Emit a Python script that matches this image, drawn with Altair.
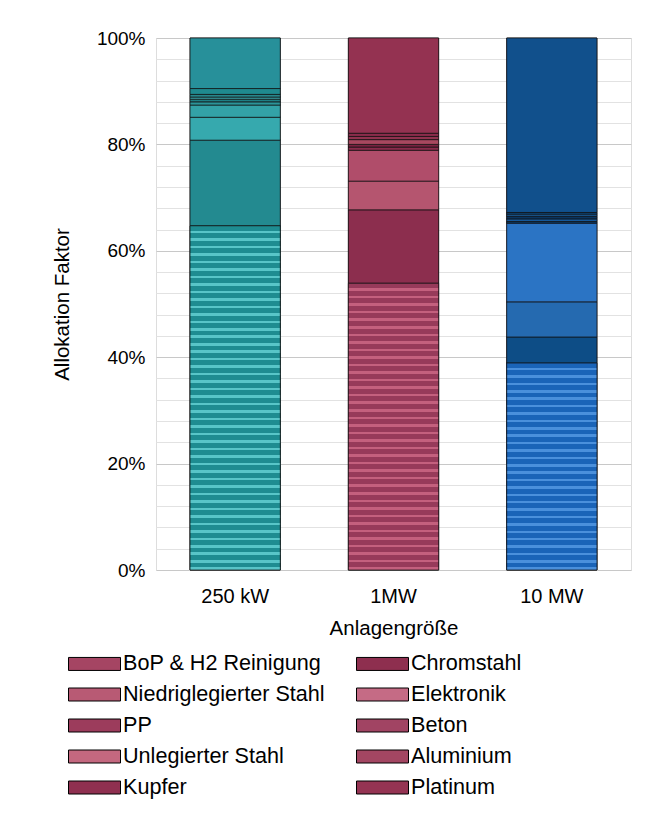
import altair as alt
import pandas as pd

# ---------------- data ----------------
bars = ["250 kW", "1MW", "10 MW"]
materials = [
    "BoP & H2 Reinigung", "Chromstahl", "Niedriglegierter Stahl", "Elektronik",
    "PP", "Beton", "Unlegierter Stahl", "Aluminium", "Kupfer", "Platinum",
]
v_250kw = [64.7, 16.1, 4.3, 2.3, 0.6, 0.5, 0.4, 0.5, 1.1, 9.5]
v_1mw = [53.9, 13.8, 5.4, 5.8, 0.6, 0.5, 0.9, 0.6, 0.6, 17.9]
v_10mw = [38.9, 4.9, 6.6, 14.8, 0.3, 0.5, 0.5, 0.4, 0.3, 32.8]
y_ticks = [0, 0.04, 0.08, 0.12, 0.16, 0.2, 0.24, 0.28, 0.32, 0.36, 0.4, 0.44,
           0.48, 0.52, 0.56, 0.6, 0.64, 0.68, 0.72, 0.76, 0.8, 0.84, 0.88, 0.92,
           0.96, 1.0]

# ---------------- styles ----------------
fills = {
    "250 kW": ["#1e8c91", "#238a90", "#36a9ae", "#33a2a7", "#2b9499",
               "#1e7f84", "#3aa8ad", "#26878c", "#1f8a8f", "#27909a"],
    "1MW": ["#973a5a", "#8c2e4e", "#b5556f", "#b04d6a", "#8a2c4b",
            "#7a2240", "#a8485f", "#90324f", "#8c2c4c", "#943251"],
    "10 MW": ["#1a64b8", "#0d4d86", "#256ab0", "#2b74c4", "#0b3f70",
              "#15589a", "#0a3560", "#1a5f9f", "#0c4a80", "#11508c"],
}
stripe_light = {"250 kW": "#58c5c8", "1MW": "#c4607e", "10 MW": "#4a90dc"}
legend_colors = ["#a54563", "#8e2f4f", "#b85a74", "#c56b85", "#9c3c5c",
                 "#a14463", "#c4687f", "#a34662", "#8f3050", "#953453"]

FONT = "Liberation Sans"
PLOT_W, PLOT_H = 475, 532

values_by_bar = {"250 kW": v_250kw, "1MW": v_1mw, "10 MW": v_10mw}
rows = []
for b in bars:
    for i, (m, v) in enumerate(zip(materials, values_by_bar[b])):
        rows.append({"bar": b, "material": m, "ord": i, "value": v / 100.0,
                     "fill": fills[b][i]})
df = pd.DataFrame(rows)

major = "round(datum.value*100) % 20 == 0"

x_enc = alt.X(
    "bar:N", sort=bars,
    scale=alt.Scale(paddingInner=0.43, paddingOuter=0.215),
    axis=alt.Axis(title="Anlagengröße", labelAngle=0, labelFontSize=20,
                  labelFont=FONT, labelColor="black", labelPadding=16,
                  ticks=False, domain=False, titleFont=FONT, titleFontSize=20.5,
                  titleFontWeight="normal", titleColor="black",
                  titleX=PLOT_W / 2, titleY=58, titleBaseline="middle"),
)
y_enc = alt.Y(
    "value:Q", stack="zero",
    scale=alt.Scale(domain=[0, 1], nice=False),
    axis=alt.Axis(values=y_ticks,
                  labelExpr=f"{major} ? format(datum.value, '.0%') : ''",
                  grid=True,
                  gridColor={"condition": {"test": major, "value": "#c8c8c8"},
                             "value": "#e2e2e2"},
                  gridWidth=1, ticks=False, domain=False,
                  labelFontSize=19, labelFont=FONT, labelColor="black",
                  labelPadding=11, title="Allokation Faktor", titleFont=FONT,
                  titleFontSize=20.5, titleFontWeight="normal",
                  titleColor="black", titleX=-94, titleY=PLOT_H / 2,
                  titleBaseline="middle"),
)

base = alt.Chart(df).encode(x=x_enc, y=y_enc, order=alt.Order("ord:Q"))

legend_layer = base.mark_bar(stroke="black", strokeWidth=0.7).encode(
    color=alt.Color(
        "material:N", sort=materials,
        scale=alt.Scale(domain=materials, range=legend_colors),
        legend=alt.Legend(
            title=None, orient="none", legendX=-88, legendY=612, columns=2,
            direction="horizontal",
            symbolType="M-2,-0.5H2V0.5H-2Z", symbolSize=676,
            symbolStrokeColor="black", symbolStrokeWidth=1, symbolOffset=13,
            labelOffset=15, labelFontSize=21.6, labelFont=FONT,
            labelColor="black", labelLimit=400, rowPadding=6,
            columnPadding=29, padding=0,
        ),
    )
)

fill_layer = base.mark_bar(stroke="#111111", strokeWidth=0.7).encode(
    fill=alt.Fill("fill:N", scale=None)
)

layers = [legend_layer, fill_layer]

# horizontal stripe texture for the BoP segments
for b in bars:
    seg_px = values_by_bar[b][0] / 100.0 * PLOT_H
    n = max(1, int(round(seg_px / 7.5)))
    dark = fills[b][0]
    light = stripe_light[b]
    stops = []
    for k in range(n):
        stops += [
            {"offset": k / n, "color": dark},
            {"offset": (k + 0.66) / n, "color": dark},
            {"offset": (k + 0.66) / n, "color": light},
            {"offset": (k + 1) / n, "color": light},
        ]
    grad = {"gradient": "linear", "x1": 0, "y1": 0, "x2": 0, "y2": 1,
            "stops": stops}
    layers.append(
        base.transform_filter(f"datum.bar == '{b}' && datum.ord == 0")
        .mark_bar(fill=grad, stroke="#111111", strokeWidth=0.7)
    )

chart = alt.layer(*layers).properties(
    width=PLOT_W, height=PLOT_H,
    autosize=alt.AutoSizeParams(type="none"),
    padding={"left": 148, "top": 30, "right": 15, "bottom": 250},
).configure_view(stroke=None).configure(background="white")

chart.save("out.html", embed_options={"renderer": "svg", "actions": False})
